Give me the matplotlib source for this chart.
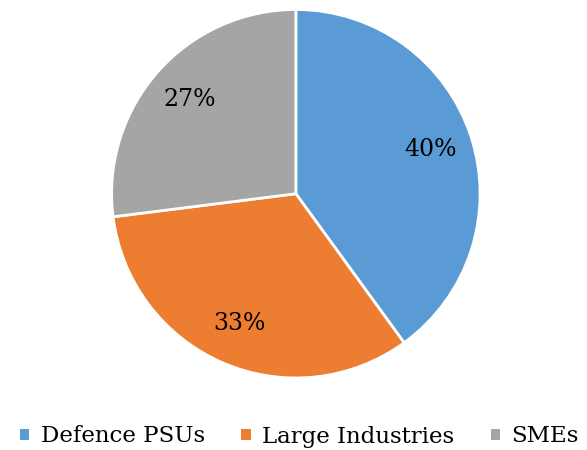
import matplotlib.pyplot as plt

labels = ['Defence PSUs', 'Large Industries', 'SMEs']
shares = [40, 33, 27]
colors = ['#5B9BD5', '#ED7D31', '#A5A5A5']

plt.rcParams['font.family'] = ['DejaVu Serif']

fig = plt.figure(figsize=(5.87, 4.5), dpi=100)
ax = fig.add_axes([0.187, 0.156, 0.634, 0.827])

wedges, texts = ax.pie(
    shares, colors=colors, startangle=90, counterclock=False,
    wedgeprops=dict(edgecolor='white', linewidth=2),
    labels=[f'{v}%' for v in shares], labeldistance=0.77,
    textprops=dict(fontsize=17, color='black', ha='center', va='center'))
ax.set_xlim(-1.01, 1.01)
ax.set_ylim(-1.01, 1.01)
ax.set_aspect('equal')

fig.legend(wedges, labels, loc='center', bbox_to_anchor=(0.51, 0.03),
           ncol=3, frameon=False, fontsize=16.5, handlelength=0.4,
           handleheight=0.4, handletextpad=0.5, columnspacing=1.6)
for h in fig.legends[0].legend_handles:
    h.set_edgecolor('none')

fig.savefig('out.png', dpi=100)
